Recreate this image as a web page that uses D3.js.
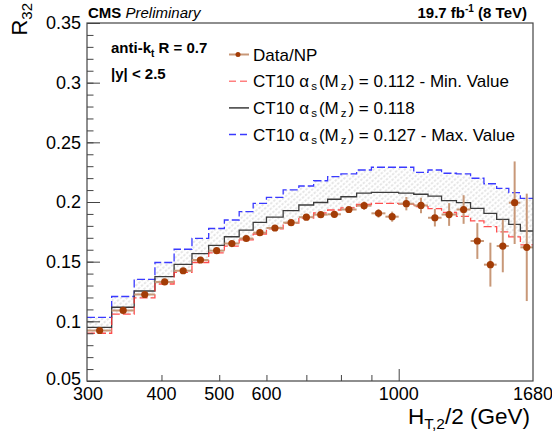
<!DOCTYPE html>
<html>
<head>
<meta charset="utf-8">
<script src="https://cdn.jsdelivr.net/npm/d3@7"></script>
<style>
  body { margin: 0; background: #fff; }
  svg { font-family: "Liberation Sans", Arial, sans-serif; }
</style>
</head>
<body>
<div id="container"></div>
<script>
const width = 552,
  height = 433,
  margin = {top: 23, bottom: 52, left: 87, right: 19};

// HT,2/2 bin edges (GeV)
const binEdges = [300, 330, 360, 390, 420, 450, 480, 510, 540, 570, 600, 640, 680, 720, 760,
  800, 850, 900, 950, 1000, 1060, 1120, 1180, 1250, 1320, 1390, 1460, 1530, 1600, 1680];

// measured R32 (data / NP) and stat. error
const dataR32 = [0.0923, 0.1091, 0.1225, 0.1330, 0.1424, 0.1514, 0.1592, 0.1652, 0.1694, 0.1743,
  0.1782, 0.1827, 0.1873, 0.1894, 0.1897, 0.1937, 0.1969, 0.1905, 0.1877, 0.1986,
  0.1971, 0.1868, 0.1895, 0.1937, 0.1673, 0.1475, 0.1631, 0.1994, 0.1620];
const dataErr = [0.0008, 0.0008, 0.0008, 0.0008, 0.0008, 0.0008, 0.0008, 0.0009, 0.0010, 0.0010,
  0.0011, 0.0012, 0.0013, 0.0015, 0.0016, 0.0020, 0.0035, 0.0036, 0.0042, 0.0056,
  0.0065, 0.0073, 0.0095, 0.0120, 0.0150, 0.0184, 0.0220, 0.0346, 0.0450];

// CT10 predictions
const ct10Min = [0.0900, 0.1061, 0.1197, 0.1313, 0.1411, 0.1493, 0.1573, 0.1631, 0.1682, 0.1732,
  0.1774, 0.1824, 0.1866, 0.1908, 0.1933, 0.1950, 0.1979, 0.1989, 0.1989, 0.1983,
  0.1961, 0.1944, 0.1912, 0.1879, 0.1841, 0.1793, 0.1749, 0.1707, 0.1640];
const ct10Central = [0.0950, 0.1118, 0.1254, 0.1374, 0.1478, 0.1568, 0.1636, 0.1709, 0.1765, 0.1830,
  0.1874, 0.1927, 0.1975, 0.1996, 0.2023, 0.2044, 0.2075, 0.2081, 0.2081, 0.2075,
  0.2065, 0.2050, 0.2011, 0.1994, 0.1947, 0.1905, 0.1855, 0.1813, 0.1757];
const ct10Max = [0.1034, 0.1208, 0.1352, 0.1493, 0.1604, 0.1696, 0.1778, 0.1849, 0.1919, 0.1989,
  0.2038, 0.2101, 0.2134, 0.2178, 0.2212, 0.2235, 0.2268, 0.2291, 0.2291, 0.2291,
  0.2249, 0.2268, 0.2241, 0.2235, 0.2199, 0.2153, 0.2115, 0.2078, 0.2031];

const yMajorTicks = [0.05, 0.1, 0.15, 0.2, 0.25, 0.3, 0.35];
const xLabelTicks = [300, 400, 500, 600, 1000, 1680];
const xMinorTicks = [400, 500, 600, 700, 800, 900];
const xMajorTicks = [1000];

const bins = dataR32.map((d, i) => ({
  lo: binEdges[i], hi: binEdges[i + 1], mid: (binEdges[i] + binEdges[i + 1]) / 2,
  r32: d, err: dataErr[i], min: ct10Min[i], cen: ct10Central[i], max: ct10Max[i]
}));

const xScale = d3.scaleLog()
  .domain([300, 1680])
  .range([margin.left, width - margin.right]);

const yScale = d3.scaleLinear()
  .domain([0.05, 0.35])
  .range([height - margin.bottom, margin.top]);

const svg = d3.select("#container")
  .append("svg")
  .attr("width", width)
  .attr("height", height);

const defs = svg.append("defs");
const hatch = defs.append("pattern")
  .attr("id", "hatch")
  .attr("patternUnits", "userSpaceOnUse")
  .attr("width", 4)
  .attr("height", 4)
  .attr("patternTransform", "rotate(-40)");
hatch.append("line")
  .attr("x1", 0).attr("y1", 2).attr("x2", 4).attr("y2", 2)
  .attr("stroke", "#cdcdcd")
  .attr("stroke-width", 1)
  .attr("stroke-dasharray", "2.5,1.5");

// band between min and max alpha_s
svg.selectAll("rect.band")
  .data(bins)
  .join("rect")
  .attr("class", "band")
  .attr("x", d => xScale(d.lo))
  .attr("width", d => xScale(d.hi) - xScale(d.lo))
  .attr("y", d => yScale(d.max))
  .attr("height", d => yScale(d.min) - yScale(d.max))
  .attr("fill", "url(#hatch)");

// step histograms
const stepLine = d3.line().x(p => xScale(p[0])).y(p => yScale(p[1]));
const steps = key => bins.flatMap(d => [[d.lo, d[key]], [d.hi, d[key]]]);

svg.append("path")
  .attr("d", stepLine(steps("max")))
  .attr("fill", "none")
  .attr("stroke", "#3a3aff")
  .attr("stroke-width", 1.3)
  .attr("stroke-dasharray", "8,3");

svg.append("path")
  .attr("d", stepLine(steps("cen")))
  .attr("fill", "none")
  .attr("stroke", "#3c3c3c")
  .attr("stroke-width", 1.3);

svg.append("path")
  .attr("d", stepLine(steps("min")))
  .attr("fill", "none")
  .attr("stroke", "#ff3030")
  .attr("stroke-width", 1.3)
  .attr("stroke-opacity", 0.85)
  .attr("stroke-dasharray", "8,3");

// data error bars
const errColor = "#c89878";
svg.selectAll("line.xerr")
  .data(bins)
  .join("line")
  .attr("class", "xerr")
  .attr("x1", d => xScale(d.lo))
  .attr("x2", d => xScale(d.hi))
  .attr("y1", d => yScale(d.r32))
  .attr("y2", d => yScale(d.r32))
  .attr("stroke", errColor)
  .attr("stroke-width", 2);

svg.selectAll("line.yerr")
  .data(bins)
  .join("line")
  .attr("class", "yerr")
  .attr("x1", d => xScale(d.mid))
  .attr("x2", d => xScale(d.mid))
  .attr("y1", d => yScale(d.r32 - d.err))
  .attr("y2", d => yScale(d.r32 + d.err))
  .attr("stroke", errColor)
  .attr("stroke-width", 2);

svg.selectAll("circle.dot")
  .data(bins)
  .join("circle")
  .attr("class", "dot")
  .attr("cx", d => xScale(d.mid))
  .attr("cy", d => yScale(d.r32))
  .attr("r", 3.6)
  .attr("fill", "#a33c06");

// axes (ticks pointing inside)
const yMinor = d3.range(0.05, 0.3501, 0.01).map(v => +v.toFixed(2));
svg.append("g")
  .attr("transform", `translate(${margin.left},0)`)
  .call(d3.axisLeft(yScale).tickValues(yMinor).tickSizeInner(-6.5).tickSizeOuter(0).tickFormat(""))
  .call(g => g.select(".domain").remove())
  .call(g => g.selectAll("line").attr("stroke", "#444"));

svg.append("g")
  .attr("transform", `translate(${margin.left},0)`)
  .call(d3.axisLeft(yScale).tickValues(yMajorTicks).tickSizeInner(-13).tickSizeOuter(0).tickFormat(d => d))
  .call(g => g.select(".domain").remove())
  .call(g => g.selectAll("line").attr("stroke", "#444"))
  .call(g => g.selectAll("text")
    .attr("x", -6)
    .attr("dy", d => d === 0.05 ? "0.2em" : "0.32em")
    .attr("font-size", 18)
    .attr("font-family", "Liberation Sans, Arial, sans-serif")
    .attr("fill", "#000"));

svg.append("g")
  .attr("transform", `translate(0,${height - margin.bottom})`)
  .call(d3.axisBottom(xScale).tickValues(xMinorTicks).tickSizeInner(-6).tickSizeOuter(0).tickFormat(""))
  .call(g => g.select(".domain").remove())
  .call(g => g.selectAll("line").attr("stroke", "#444"));

svg.append("g")
  .attr("transform", `translate(0,${height - margin.bottom})`)
  .call(d3.axisBottom(xScale).tickValues(xMajorTicks).tickSizeInner(-12).tickSizeOuter(0).tickFormat(""))
  .call(g => g.select(".domain").remove())
  .call(g => g.selectAll("line").attr("stroke", "#444"));

svg.selectAll("text.xlab")
  .data(xLabelTicks)
  .join("text")
  .attr("class", "xlab")
  .attr("x", d => xScale(d) + (d === 300 ? 1 : 0))
  .attr("y", height - margin.bottom + 19)
  .attr("text-anchor", "middle")
  .attr("font-size", 18)
  .text(d => d);

// frame
svg.append("rect")
  .attr("x", margin.left)
  .attr("y", margin.top)
  .attr("width", width - margin.left - margin.right)
  .attr("height", height - margin.top - margin.bottom)
  .attr("fill", "none")
  .attr("stroke", "#444")
  .attr("stroke-width", 1.2);

// titles
const xt = svg.append("text")
  .attr("x", 530)
  .attr("y", 424)
  .attr("text-anchor", "end")
  .attr("font-size", 22.5);
xt.append("tspan").text("H");
xt.append("tspan").attr("font-size", 15.5).attr("dy", 5).text("T,2");
xt.append("tspan").attr("dy", -5).text("/2 (GeV)");

const yt = svg.append("text")
  .attr("transform", "translate(27,3) rotate(-90)")
  .attr("text-anchor", "end")
  .attr("font-size", 22);
yt.append("tspan").text("R");
yt.append("tspan").attr("font-size", 15).attr("dy", 5).text("32");

svg.append("text")
  .attr("x", margin.left + 1)
  .attr("y", 18)
  .attr("font-size", 15)
  .call(t => t.append("tspan").attr("font-weight", "bold").text("CMS"))
  .call(t => t.append("tspan").attr("font-style", "italic").text(" Preliminary"));

const lumi = svg.append("text")
  .attr("x", 527)
  .attr("y", 18)
  .attr("text-anchor", "end")
  .attr("font-size", 15)
  .attr("font-weight", "bold");
lumi.append("tspan").text("19.7 fb");
lumi.append("tspan").attr("font-size", 10).attr("dy", -6).text("-1");
lumi.append("tspan").attr("dy", 6).text(" (8 TeV)");

const jet = svg.append("text")
  .attr("x", 111)
  .attr("y", 53)
  .attr("font-size", 15)
  .attr("font-weight", "bold");
jet.append("tspan").text("anti-k");
jet.append("tspan").attr("font-size", 10).attr("dy", 4).text("t");
jet.append("tspan").attr("dy", -4).text(" R = 0.7");

svg.append("text")
  .attr("x", 111)
  .attr("y", 79)
  .attr("font-size", 15)
  .attr("font-weight", "bold")
  .text("|y| < 2.5");

// legend
const legendRows = [
  {label: "Data/NP", kind: "data"},
  {label: "0.112 - Min. Value", kind: "min"},
  {label: "0.118", kind: "cen"},
  {label: "0.127 - Max. Value", kind: "max"}
];
const legend = svg.append("g");
legendRows.forEach((row, i) => {
  const cy = 54.5 + i * 26.7;
  const g = legend.append("g");
  if (row.kind === "data") {
    g.append("line").attr("x1", 229).attr("x2", 249).attr("y1", cy).attr("y2", cy)
      .attr("stroke", errColor).attr("stroke-width", 2);
    g.append("circle").attr("cx", 238).attr("cy", cy).attr("r", 2.5).attr("fill", "#a33c06");
  } else {
    const style = {
      min: {c: "#ff8080", dash: "7,4"},
      cen: {c: "#3c3c3c", dash: null},
      max: {c: "#3a3aff", dash: "7,4"}
    }[row.kind];
    g.append("line").attr("x1", 229).attr("x2", 249).attr("y1", cy).attr("y2", cy)
      .attr("stroke", style.c).attr("stroke-width", 1.5)
      .attr("stroke-dasharray", style.dash);
  }
  const t = g.append("text").attr("x", 253).attr("y", cy + 6).attr("font-size", 17);
  if (row.kind === "data") {
    t.text(row.label);
  } else {
    t.append("tspan").text("CT10 \u03b1");
    t.append("tspan").attr("font-size", 11.5).attr("dx", 2).attr("dy", 3).text("s");
    t.append("tspan").attr("dx", 2).attr("dy", -3).text("(M");
    t.append("tspan").attr("font-size", 11.5).attr("dx", 2).attr("dy", 3).text("z");
    t.append("tspan").attr("dx", 2).attr("dy", -3).text(") = " + row.label);
  }
});
</script>
</body>
</html>
